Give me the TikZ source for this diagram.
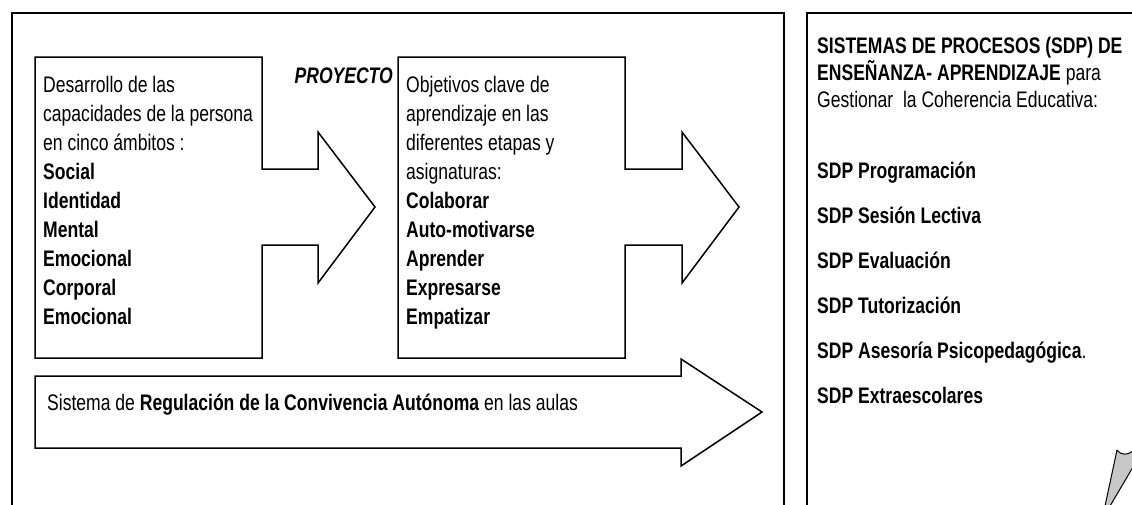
\documentclass[tikz,border=0pt]{standalone}
\usepackage{fontspec}
\setmainfont[FakeStretch=0.78]{Liberation Sans}
\newcommand{\stackedlines}[1]{\vtop{\halign{##\hfil\cr#1\crcr}}}
\begin{document}
\begin{tikzpicture}[x=1pt,y=-1pt,
  shp/.style={draw=black,line width=1.5pt,line join=miter},
  txt/.style={inner sep=0pt,anchor=base west,font=\fontsize{22.5}{29}\selectfont},
  sdp/.style={inner sep=0pt,anchor=base west,font=\bfseries\fontsize{22.5}{29}\selectfont}]
\useasboundingbox (0,0) rectangle (1132,504);
\clip (0,0) rectangle (1132,504);
% outer boxes
\draw[shp] (12,13) rectangle (784,530);
\draw[shp] (807,13) rectangle (1160,530);
% block arrow 1
\draw[shp] (35,57) -- (262,57) -- (262,169) -- (318,169) -- (318,132) -- (375,207)
  -- (318,283) -- (318,245) -- (262,245) -- (262,358) -- (35,358) -- cycle;
% block arrow 2
\draw[shp] (398,57) -- (625,57) -- (625,169) -- (682,169) -- (682,132) -- (739,207)
  -- (682,283) -- (682,245) -- (625,245) -- (625,358) -- (398,358) -- cycle;
% block arrow 3
\draw[shp] (35,376) -- (681,376) -- (681,359) -- (762,412) -- (681,466) -- (681,448)
  -- (35,448) -- cycle;
% texts
\node[txt] (t1) at (43,92) {\stackedlines{Desarrollo de las\cr capacidades de la persona\cr en cinco ámbitos :\cr \textbf{Social}\cr \textbf{Identidad}\cr \textbf{Mental}\cr \textbf{Emocional}\cr \textbf{Corporal}\cr \textbf{Emocional}}};
\node[txt] (t2) at (406,92) {\stackedlines{Objetivos clave de\cr aprendizaje en las\cr diferentes etapas y\cr asignaturas:\cr \textbf{Colaborar}\cr \textbf{Auto-motivarse}\cr \textbf{Aprender}\cr \textbf{Expresarse}\cr \textbf{Empatizar}}};
\node[inner sep=0pt,anchor=base east,font=\bfseries\itshape\fontsize{22.5}{29}\selectfont] (proy) at (393,83) {PROYECTO};
\node[txt] (t3) at (47,410) {Sistema de \textbf{Regulación de la Convivencia Autónoma} en las aulas};
\node[txt,font=\fontsize{22.5}{27}\selectfont] (hdr) at (817,53) {\stackedlines{\textbf{SISTEMAS DE PROCESOS (SDP) DE}\cr \textbf{ENSEÑANZA- APRENDIZAJE} para\cr Gestionar\ \ la Coherencia Educativa:}};
\node[sdp] (s1) at (817,178) {SDP Programación};
\node[sdp] (s2) at (817,223) {SDP Sesión Lectiva};
\node[sdp] (s3) at (817,268) {SDP Evaluación};
\node[sdp] (s4) at (817,313) {SDP Tutorización};
\node[sdp] (s5) at (817,358) {SDP Asesoría Psicopedagógica\textmd{.}};
\node[sdp] (s6) at (817,403) {SDP Extraescolares};
% grey pointer at bottom right
\filldraw[fill=black!22,draw=black,line width=1pt,line join=round]
  (1117,450) .. controls (1122,456) and (1127,455) .. (1133,451) -- (1133,467) -- (1110,506) -- (1105,506) -- cycle;
\end{tikzpicture}
\end{document}
